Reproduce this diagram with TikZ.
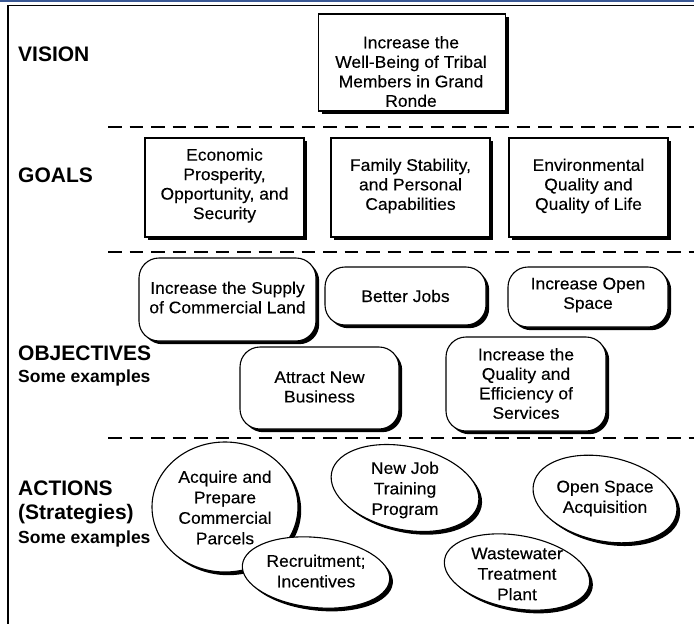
\documentclass[tikz,border=0pt]{standalone}
\usepackage{fontspec}
\setmainfont{Liberation Sans}
\newfontfamily\boxfont{Liberation Sans}[FakeStretch=1.04,FakeBold=0.25]
\usetikzlibrary{shapes.geometric,shadows}
\definecolor{topblue}{RGB}{58,88,148}
\begin{document}
\begin{tikzpicture}[x=1pt,y=-1pt,
  txt/.style={font=\boxfont\fontsize{16.8}{19.5}\selectfont, align=center, inner sep=0pt},
  etxt/.style={font=\boxfont\fontsize{16.8}{20.5}\selectfont, align=center, inner sep=0pt},
  lab/.style={font=\bfseries\fontsize{21}{24}\selectfont, anchor=base west, inner sep=0pt},
  sublab/.style={font=\bfseries\fontsize{17.5}{20}\selectfont, anchor=base west, inner sep=0pt},
  shad/.style={drop shadow={shadow xshift=3.2pt, shadow yshift=-3.2pt, fill=black, opacity=1}},
  sqbox/.style={draw, line width=1.1pt, fill=white, shad, inner sep=0pt},
  rbox/.style={sqbox, rounded corners=20pt},
  ell/.style={ellipse, draw, line width=1.1pt, fill=white, shad, inner sep=0pt},
  sep/.style={line width=1.8pt, dash pattern=on 13.5pt off 8pt}
]
\useasboundingbox (0,0) rectangle (694,624);
% frame
\fill[topblue] (0,0) rectangle (694,2);
\draw[line width=1.5pt] (8,624) -- (8,5.5) -- (694,5.5);

% separators
\draw[sep] (108,127) -- (694,127);
\draw[sep] (108,252) -- (694,252);
\draw[sep] (108,438) -- (694,438);

% row labels
\node[lab] (lvis) at (18,61) {VISION};
\node[lab] (lgoal) at (18,182) {GOALS};
\node[lab] (lobj) at (18,360) {OBJECTIVES};
\node[sublab] (lobjs) at (18,382) {Some examples};
\node[lab] (lact) at (18,495) {ACTIONS};
\node[lab] (lstr) at (18,519) {(Strategies)};
\node[sublab] (lacts) at (18,543) {Some examples};

% vision
\node[sqbox, minimum width=187pt, minimum height=97pt] (vision) at (412,62.5) {};
\node[txt] (visiont) at (411,71.5) {Increase the\\Well-Being of Tribal\\Members in Grand\\Ronde};

% goals
\node[sqbox, minimum width=159pt, minimum height=99pt] (g1) at (224.5,187.5) {};
\node[txt] at (224.5,185.5) {Economic\\Prosperity,\\Opportunity, and\\Security};
\node[sqbox, minimum width=159pt, minimum height=99pt] (g2) at (410.5,187.5) {};
\node[txt] at (410.5,186) {Family Stability,\\and Personal\\Capabilities};
\node[sqbox, minimum width=159pt, minimum height=99pt] (g3) at (588.5,187.5) {};
\node[txt] at (588.5,186) {Environmental\\Quality and\\Quality of Life};

% objectives
\node[rbox, minimum width=177pt, minimum height=83pt] (o1) at (227.5,299.5) {};
\node[txt] at (227.5,297.5) {Increase the Supply\\of Commercial Land};
\node[rbox, minimum width=161pt, minimum height=58pt] (o2) at (405.5,296) {};
\node[txt] at (405.5,296) {Better Jobs};
\node[rbox, minimum width=160pt, minimum height=60pt] (o3) at (588,297) {};
\node[txt] at (588,295) {Increase Open\\Space};
\node[rbox, minimum width=159pt, minimum height=82pt] (o4) at (319.5,388) {};
\node[txt] at (319.5,387) {Attract New\\Business};
\node[rbox, minimum width=160pt, minimum height=94pt] (o5) at (526,384) {};
\node[txt] at (526,383.5) {Increase the\\Quality and\\Efficiency of\\Services};

% actions
\node[ell, minimum width=146pt, minimum height=130pt] (a1) at (225,507) {};
\node[etxt] at (225,507.5) {Acquire and\\Prepare\\Commercial\\Parcels};
\node[ell, rotate=-6, minimum width=148pt, minimum height=70pt] (a2) at (316,572.5) {};
\node[etxt] at (316,571) {Recruitment;\\Incentives};
\node[ell, rotate=-12, minimum width=150pt, minimum height=83pt] (a3) at (405,488) {};
\node[etxt] at (405,490) {New Job\\Training\\Program};
\node[ell, rotate=-12, minimum width=146pt, minimum height=84pt] (a4) at (605,499) {};
\node[etxt] at (605,498.5) {Open Space\\Acquisition};
\node[ell, rotate=-10, minimum width=147pt, minimum height=73pt] (a5) at (517,572) {};
\node[etxt] at (517,574) {Wastewater\\Treatment\\Plant};
\end{tikzpicture}
\end{document}
